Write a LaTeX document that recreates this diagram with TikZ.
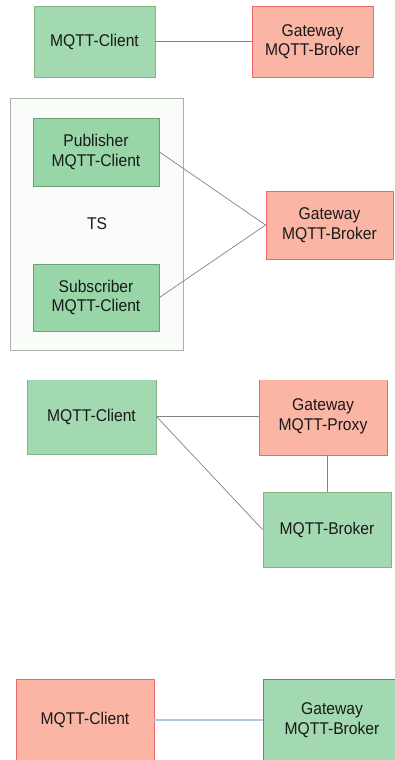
\documentclass[tikz,border=0pt]{standalone}
\usepackage{fontspec}
\setmainfont[FakeStretch=0.92]{Liberation Sans}
\begin{document}
\begin{tikzpicture}[x=1pt,y=-1pt,
  every node/.style={font=\fontsize{17}{19.5}\selectfont, text=black!90, align=center, inner sep=0pt},
  greenbox/.style={draw=green!30!gray!90!black!70, fill={rgb,255:red,163;green,217;blue,177}, line width=0.9pt, rectangle},
  greenboxb/.style={draw={rgb,255:red,110;green,160;blue,120}, fill={rgb,255:red,152;green,214;blue,168}, line width=0.9pt, rectangle},
  greenboxc/.style={draw={rgb,255:red,85;green,150;blue,85}, fill={rgb,255:red,163;green,217;blue,177}, line width=0.9pt, rectangle},
  redbox/.style={draw={rgb,255:red,235;green,105;blue,105}, fill={rgb,255:red,250;green,181;blue,165}, line width=0.9pt, rectangle},
  tsbox/.style={draw={rgb,255:red,170;green,178;blue,165}, fill={rgb,255:red,250;green,252;blue,249}, line width=0.9pt, rectangle},
  link/.style={draw={rgb,255:red,130;green,130;blue,130}, line width=0.7pt},
  bluelink/.style={draw={rgb,255:red,180;green,200;blue,228}, line width=1.5pt}
]
\clip (0,0) rectangle (395,760);

% --- simple client / broker pair
\node[greenbox, minimum width=121pt, minimum height=71pt] (c1) at (94.5,41.5) {MQTT-Client};
\node[redbox, minimum width=121pt, minimum height=71pt] (g1) at (312.5,41.5) {Gateway\\MQTT-Broker};
\draw[link] (c1) -- (g1);

% --- TS with publisher and subscriber
\node[tsbox, minimum width=173pt, minimum height=252pt] (ts) at (96.5,224) {};
\node (tslabel) at (97,224) {TS};
\node[greenboxb, minimum width=126pt, minimum height=68pt] (pub) at (96,152) {Publisher\\MQTT-Client};
\node[greenboxb, minimum width=126pt, minimum height=67pt] (sub) at (96,297.5) {Subscriber\\MQTT-Client};
\node[redbox, minimum width=127pt, minimum height=68pt] (g2) at (329.5,225) {Gateway\\MQTT-Broker};
\draw[link] (pub.east) -- (g2.west);
\draw[link] (sub.east) -- (g2.west);

% --- client via proxy to broker
\begin{scope}
\clip (0,380) rectangle (395,760);
\node[greenbox, minimum width=129pt, minimum height=76pt] (c3) at (91.5,416.5) {MQTT-Client};
\node[redbox, minimum width=128pt, minimum height=77pt] (px) at (323,416.5) {Gateway\\MQTT-Proxy};
\end{scope}
\node[greenbox, minimum width=128pt, minimum height=75pt] (b3) at (327,529.5) {MQTT-Broker};
\draw[link] (c3.east) -- (px.west);
\draw[link] (c3.east) -- (b3.west);
\draw[link] (b3.north) -- (b3.north |- px.south);

% --- client to gateway broker
\node[redbox, minimum width=138pt, minimum height=82pt] (c4) at (85,720) {MQTT-Client};
\node[greenboxc, minimum width=138pt, minimum height=82pt] (g4) at (332,720) {Gateway\\MQTT-Broker};
\draw[bluelink] (c4) -- (g4);
\end{tikzpicture}
\end{document}
